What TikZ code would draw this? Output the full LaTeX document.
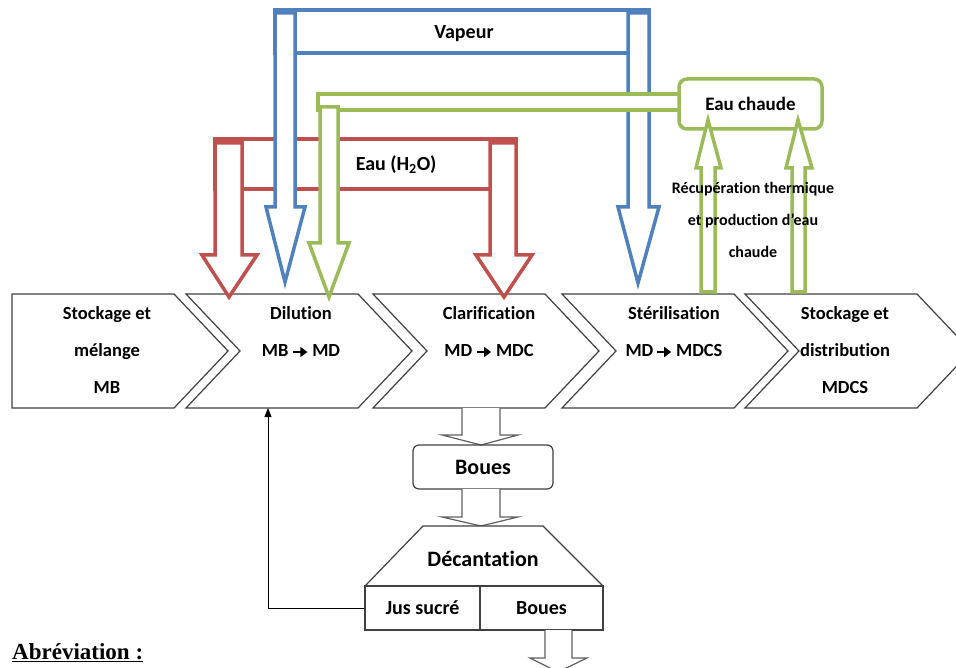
\documentclass[tikz,border=0pt]{standalone}
\usepackage{fontspec}
\setmainfont{Carlito}[Ligatures=NoCommon]
\newfontfamily\timesf{Liberation Serif}
\usetikzlibrary{arrows.meta}
\definecolor{cblue}{HTML}{4F81BD}
\definecolor{cred}{HTML}{C0504D}
\definecolor{cgreen}{HTML}{9BBB59}
\definecolor{cgray}{HTML}{404040}
\definecolor{cgrayb}{HTML}{606060}
\newcommand\rarr{\tikz[baseline=-0.55ex]\draw[line width=1.5pt,black,-{Triangle[length=7pt,width=10pt]}] (0pt,0pt) -- (14pt,0pt);}
\begin{document}
\begin{tikzpicture}[x=1pt,y=-1pt,
  pipe/.style={line width=3.5pt, fill=white, line join=miter},
  bluepipe/.style={pipe, draw=cblue},
  redpipe/.style={pipe, draw=cred},
  greenpipe/.style={pipe, draw=cgreen},
  chev/.style={draw=cgray, line width=1.2pt, fill=white, line join=miter},
  grayarrow/.style={draw=cgrayb, line width=1.2pt, fill=white},
  ctext/.style={font=\fontsize{18.5}{37}\selectfont\bfseries, align=center, inner sep=0pt},
  btext/.style={font=\fontsize{22}{26}\selectfont\bfseries, inner sep=0pt},
  ltext/.style={font=\fontsize{20}{24}\selectfont\bfseries, inner sep=0pt},
]
\useasboundingbox (0,0) rectangle (956,668);
\clip (0,0) rectangle (956,668);

% chevrons
\draw[chev] (12,294) -- (174,294) -- (228,351) -- (174,408) -- (12,408) -- cycle;
\foreach \xx in {186,373,562,745}{
  \draw[chev] (\xx,294) -- (\xx+172,294) -- (\xx+226,351) -- (\xx+172,408) -- (\xx,408) -- (\xx+54,351) -- cycle;
}
\node[ctext] (t1) at (107,350) {Stockage et\\mélange\\MB};
\node[ctext] (t2) at (301,332) {Dilution\\MB \rarr{} MD};
\node[ctext] (t3) at (489,332) {Clarification\\MD \rarr{} MDC};
\node[ctext] (t4) at (674,332) {Stérilisation\\MD\,\rarr{} MDCS};
\node[ctext] (t5) at (845,350) {Stockage et\\distribution\\MDCS};

% red (water)
\draw[redpipe] (215,139) rectangle (516,189);
\draw[redpipe] (215,143) -- (215,255) -- (202,255) -- (229,297) -- (257,255) -- (242,255) -- (242,143) -- cycle;
\draw[redpipe] (490,143) -- (490,255) -- (476,255) -- (504,297) -- (532,255) -- (516,255) -- (516,143) -- cycle;
\node[ltext] (eau) at (396,165) {Eau (H\textsubscript{2}O)};

% blue (steam)
\draw[bluepipe] (275,10) rectangle (649,53);
\draw[bluepipe] (275,13) -- (275,207) -- (266,207) -- (285,282) -- (305,207) -- (295,207) -- (295,13) -- cycle;
\draw[bluepipe] (628,13) -- (628,207) -- (618,207) -- (638,283) -- (659,207) -- (649,207) -- (649,13) -- cycle;
\node[ltext] (vap) at (464,34) {Vapeur};

% green (hot water)
\draw[greenpipe] (318,94) rectangle (682,110);
\draw[greenpipe] (320,107) -- (320,243) -- (309,243) -- (329,297) -- (349,243) -- (338,243) -- (338,107) -- cycle;
\node[greenpipe, rounded corners=8pt, minimum width=143pt, minimum height=50pt,
      font=\fontsize{19}{23}\selectfont\bfseries, inner sep=0pt] (ec) at (750.5,104) {Eau chaude};
\draw[greenpipe] (701,292) -- (701,168) -- (696,168) -- (708,120) -- (721,168) -- (715,168) -- (715,292) -- cycle;
\draw[greenpipe] (792,292) -- (792,168) -- (786,168) -- (798,120) -- (812,168) -- (805,168) -- (805,292) -- cycle;
\node[font=\fontsize{16}{32}\selectfont\bfseries, align=center, inner sep=0pt] (rec) at (753,220)
  {Récupération thermique\\et production d’eau\\chaude};

% lower part
\draw[grayarrow] (462,408) -- (462,435) -- (442,435) -- (481,445) -- (518,435) -- (500,435) -- (500,408);
\node[draw=cgray, line width=1.2pt, rounded corners=6pt, minimum width=140pt, minimum height=44pt, btext] (boues1) at (483,467) {Boues};
\draw[grayarrow] (462,489) -- (462,517) -- (442,517) -- (481,526) -- (518,517) -- (500,517) -- (500,489);
\draw[chev] (423,526) -- (543,526) -- (603,586) -- (365,586) -- cycle;
\node[btext] (dec) at (483,559) {Décantation};
\node[draw=cgray, line width=1.2pt, minimum width=115pt, minimum height=44pt, inner sep=0pt,
      font=\fontsize{20}{24}\selectfont\bfseries] (jus) at (422.5,608) {Jus sucré};
\node[draw=cgray, line width=1.2pt, minimum width=123pt, minimum height=44pt, inner sep=0pt,
      font=\fontsize{20}{24}\selectfont\bfseries] (boues2) at (541.5,608) {Boues};
\draw[grayarrow] (545,630) -- (545,658) -- (530,658) -- (558,672) -- (587,658) -- (572,658) -- (572,630);

\coordinate (dilB) at (268,408);
\draw[line width=1pt, black, -{Triangle[length=9pt,width=7pt]}] (jus.west) -| (dilB);

\node[anchor=base west, inner sep=0pt, font=\timesf\bfseries\fontsize{23}{28}\selectfont] (abr) at (12,659) {\underline{Abréviation :}};
\end{tikzpicture}
\end{document}
